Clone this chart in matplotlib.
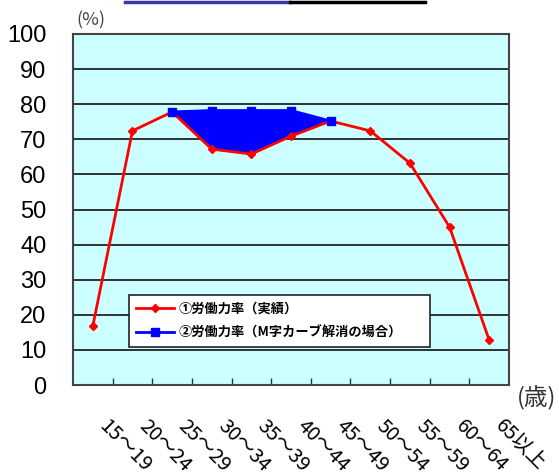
import matplotlib
matplotlib.use("Agg")
import matplotlib.pyplot as plt
from matplotlib.lines import Line2D
import numpy as np

plt.rcParams['font.family'] = ['Liberation Sans', 'Noto Sans CJK JP', 'DejaVu Sans']

# Age groups and participation rates (%)
age_groups = ["15～19", "20～24", "25～29", "30～34", "35～39", "40～44",
              "45～49", "50～54", "55～59", "60～64", "65以上"]
actual_rate = [16.8, 72.4, 77.8, 67.2, 65.8, 70.9, 75.2, 72.4, 63.2, 45.0, 12.8]
# M-curve removed: flat between the 25-29 and 45-49 groups
no_mcurve_idx = [2, 3, 4, 5, 6]
no_mcurve_rate = [77.8, 78.2, 78.2, 78.2, 75.2]
y_ticks = [0, 10, 20, 30, 40, 50, 60, 70, 80, 90, 100]
legend_labels = ["①労働力率（実績）", "②労働力率（M字カーブ解消の場合）"]

fig = plt.figure(figsize=(5.59, 4.76), dpi=100)
ax = fig.add_axes([73 / 559, 1 - 385 / 476, 436 / 559, 351 / 476])
ax.set_facecolor("#CCFFFF")

x = np.arange(len(age_groups)) + 0.5
xb = x[no_mcurve_idx]
red_sub = np.array(actual_rate)[no_mcurve_idx]

ax.fill_between(xb, red_sub, no_mcurve_rate, color="#0000FF", lw=0, zorder=3)
ax.plot(x, actual_rate, color="#FF0000", lw=2, marker="D", ms=4.5,
        label=legend_labels[0], zorder=4, clip_on=False)
ax.plot(xb, no_mcurve_rate, color="#0000FF", lw=2, marker="s", ms=6,
        label=legend_labels[1], zorder=5)

ax.set_xlim(0, len(age_groups))
ax.set_ylim(0, 100)
ax.set_yticks(y_ticks)
ax.set_yticklabels([str(v) for v in y_ticks], fontsize=17)
ax.tick_params(axis="y", length=0, pad=19)
ax.set_xticks(np.arange(1, len(age_groups)))
ax.set_xticklabels([])
ax.tick_params(axis="x", direction="in", length=5, width=1, color="#333333")
ax.grid(axis="y", color="#222222", lw=1.3, zorder=1)
ax.set_axisbelow(True)
for s in ax.spines.values():
    s.set_color("#444444")
    s.set_linewidth(1.5)

# Diagonal category labels
for xi, lab in zip(x, age_groups):
    ax.text(xi + 0.42, -8.8, lab, rotation=-45, rotation_mode="anchor",
            ha="left", va="top", fontsize=14.5, clip_on=False,
            family=["Noto Sans CJK JP"])

fig.text(76 / 559, 1 - 20 / 476, "(%)", fontsize=13, color="#444444",
         ha="left", va="center", family=["Noto Sans CJK JP"])
fig.text(517 / 559, 1 - 398 / 476, "(歳)", fontsize=17, color="#333333",
         ha="left", va="center", family=["Noto Sans CJK JP"])

leg = ax.legend(loc="lower left", bbox_to_anchor=(0.128, 0.108, 0.69, 0.2),
                mode="expand", frameon=True, fancybox=False, framealpha=1,
                edgecolor="#222222", handlelength=2.9, handletextpad=0.3,
                borderpad=0.55, labelspacing=0.75, borderaxespad=0,
                prop={"family": "Noto Sans CJK JP", "weight": "bold", "size": 9.5})
leg.get_frame().set_linewidth(1.2)

# Link underline strip along the top edge
fig.add_artist(Line2D([125 / 559, 290 / 559], [1 - 1.5 / 476] * 2,
                      color="#3838A8", lw=2.5, transform=fig.transFigure))
fig.add_artist(Line2D([290 / 559, 425 / 559], [1 - 1.5 / 476] * 2,
                      color="#000000", lw=2.5, transform=fig.transFigure))

fig.savefig("out.png", dpi=100)
